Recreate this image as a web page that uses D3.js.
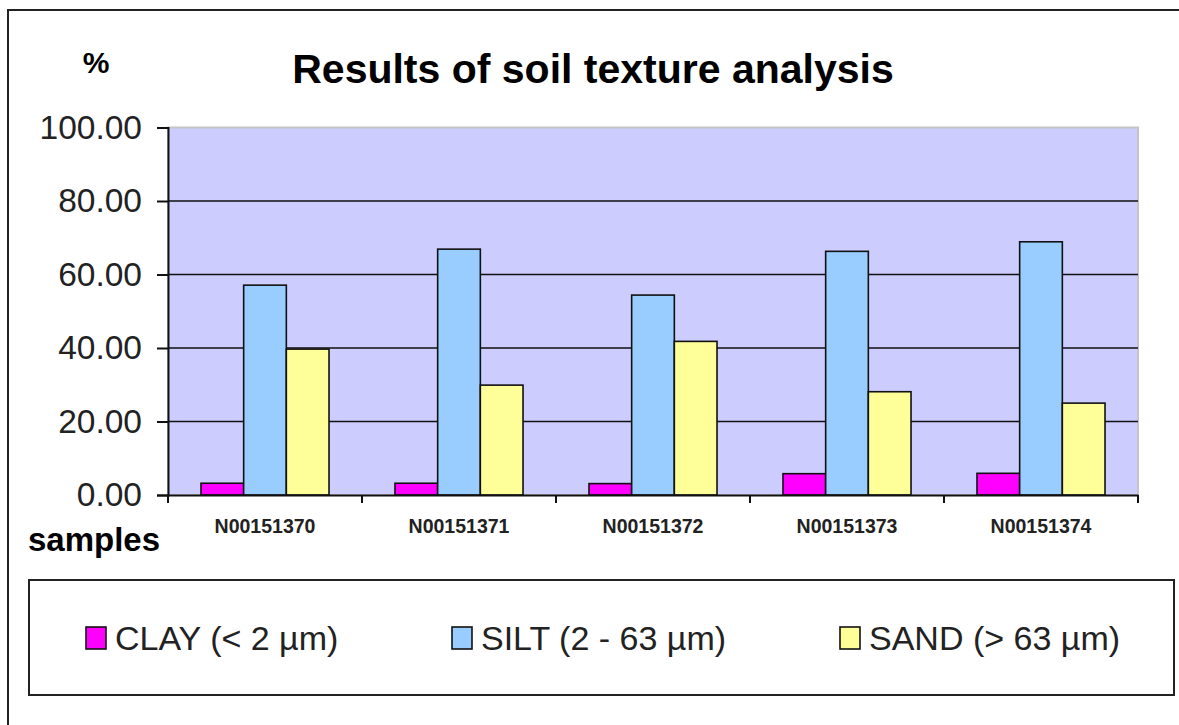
<!DOCTYPE html>
<html>
<head>
<meta charset="utf-8">
<script src="https://cdn.jsdelivr.net/npm/d3@7"></script>
<style>
  body { margin: 0; background: #fff; overflow: hidden; }
  svg { display: block; font-family: Arial, "Liberation Sans", sans-serif; }
</style>
</head>
<body>
<svg id="chart" width="1179" height="725"></svg>
<script>
// samples on the x axis
const samples = ["N00151370", "N00151371", "N00151372", "N00151373", "N00151374"];
// one entry per fraction
const seriesNames = ["CLAY (< 2 µm)", "SILT (2 - 63 µm)", "SAND (> 63 µm)"];
const seriesColors = ["#FF00FF", "#99CCFF", "#FFFF99"];
const clay = [3.2, 3.2, 3.1, 5.8, 5.9];
const silt = [57.1, 66.9, 54.4, 66.3, 68.9];
const sand = [39.7, 29.9, 41.8, 28.1, 25.0];
const yTicks = [0, 20, 40, 60, 80, 100];

const values = [clay, silt, sand];
const svg = d3.select("#chart");

// outer chart frame: only left and top edges are visible in the picture
svg.append("path")
  .attr("d", "M8,730V10H1179")
  .attr("fill", "none").attr("stroke", "#222").attr("stroke-width", 2);

const plot = { left: 168, right: 1138, top: 127.5, bottom: 495 };

const x0 = d3.scaleBand()
  .domain(samples)
  .range([plot.left, plot.right])
  .paddingInner(0.34)
  .paddingOuter(0.17);

const x1 = d3.scaleBand()
  .domain(d3.range(seriesNames.length))
  .range([0, x0.bandwidth()]);

const y = d3.scaleLinear()
  .domain([0, 100])
  .range([plot.bottom, plot.top]);

// plot area
svg.append("rect")
  .attr("x", plot.left).attr("y", plot.top)
  .attr("width", plot.right - plot.left).attr("height", plot.bottom - plot.top)
  .attr("fill", "#CCCCFF").attr("stroke", "#c4c4c4").attr("stroke-width", 2);

// grid lines
svg.append("g")
  .selectAll("line")
  .data(yTicks.filter(t => t > 0 && t < 100))
  .join("line")
  .attr("x1", plot.left).attr("x2", plot.right)
  .attr("y1", d => y(d)).attr("y2", d => y(d))
  .attr("stroke", "#111").attr("stroke-width", 1.6);

// bars
const groups = svg.append("g")
  .selectAll("g")
  .data(samples)
  .join("g")
  .attr("transform", d => `translate(${x0(d)},0)`);

groups.selectAll("rect")
  .data((d, i) => values.map((s, k) => ({ k, v: s[i] })))
  .join("rect")
  .attr("x", d => x1(d.k))
  .attr("y", d => y(d.v))
  .attr("width", x1.bandwidth())
  .attr("height", d => y(0) - y(d.v))
  .attr("fill", d => seriesColors[d.k])
  .attr("stroke", "#111")
  .attr("stroke-width", 1.6);

// y axis
const yAxis = svg.append("g")
  .attr("transform", `translate(${plot.left},0)`)
  .call(d3.axisLeft(y).tickValues(yTicks).tickFormat(d3.format(".2f")).tickSize(11).tickPadding(15));
yAxis.select(".domain").attr("stroke", "#111").attr("stroke-width", 2);
yAxis.selectAll(".tick line").attr("stroke", "#111").attr("stroke-width", 2);
yAxis.selectAll("text")
  .attr("font-size", 33.5).attr("fill", "#222")
  .attr("font-family", "Arial, 'Liberation Sans', sans-serif");

// x axis: labels at centres, ticks between samples
const xAxis = svg.append("g")
  .attr("transform", `translate(0,${plot.bottom})`)
  .call(d3.axisBottom(x0).tickSize(0).tickPadding(24));
xAxis.select(".domain").attr("stroke", "#111").attr("stroke-width", 2);
xAxis.selectAll("text")
  .attr("font-size", 19.5).attr("font-weight", "bold").attr("fill", "#222")
  .attr("font-family", "Arial, 'Liberation Sans', sans-serif");

const bounds = samples.map(s => x0(s) - x0.step() * x0.paddingOuter()).concat([plot.right]);
svg.append("g")
  .selectAll("line")
  .data(bounds)
  .join("line")
  .attr("x1", d => d).attr("x2", d => d)
  .attr("y1", plot.bottom).attr("y2", plot.bottom + 8)
  .attr("stroke", "#111").attr("stroke-width", 2);

// titles
svg.append("text")
  .attr("x", 593).attr("y", 83)
  .attr("text-anchor", "middle")
  .attr("font-size", 41).attr("font-weight", "bold")
  .text("Results of soil texture analysis");

svg.append("text")
  .attr("x", 96).attr("y", 73)
  .attr("text-anchor", "middle")
  .attr("font-size", 30).attr("font-weight", "bold")
  .text("%");

svg.append("text")
  .attr("x", 28).attr("y", 551)
  .attr("font-size", 33).attr("font-weight", "bold")
  .text("samples");

// legend
svg.append("rect")
  .attr("x", 29).attr("y", 580)
  .attr("width", 1145).attr("height", 115)
  .attr("fill", "none").attr("stroke", "#222").attr("stroke-width", 2);

const legendX = [86, 452, 840];
const items = svg.append("g")
  .selectAll("g")
  .data(seriesNames)
  .join("g")
  .attr("transform", (d, i) => `translate(${legendX[i]},627)`);

items.append("rect")
  .attr("width", 20).attr("height", 22)
  .attr("fill", (d, i) => seriesColors[i])
  .attr("stroke", "#111").attr("stroke-width", 1.6);

items.append("text")
  .attr("x", 29).attr("y", 23)
  .attr("font-size", 34).attr("fill", "#222")
  .text(d => d);
</script>
</body>
</html>
